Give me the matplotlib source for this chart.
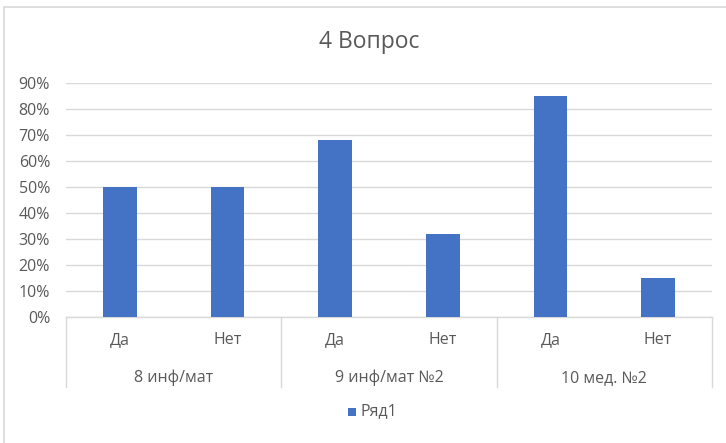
import matplotlib
matplotlib.use("Agg")
import matplotlib.pyplot as plt
import matplotlib.transforms as mtransforms
from matplotlib.patches import Rectangle

plt.rcParams['font.family'] = ['Open Sans', 'DejaVu Sans']

groups = ["8 инф/мат", "9 инф/мат №2", "10 мед. №2"]
answers = ["Да", "Нет"]
values = [0.50, 0.50, 0.68, 0.32, 0.85, 0.15]
yticks = [0, 0.1, 0.2, 0.3, 0.4, 0.5, 0.6, 0.7, 0.8, 0.9]
title = "4 Вопрос"
series_name = "Ряд1"

W, H = 726, 443
fig = plt.figure(figsize=(W / 100, H / 100), dpi=100)
fig.patch.set_facecolor('white')

# outer chart frame
fig.add_artist(Rectangle((3.5 / W, -0.1), 1.2, (H - 6.5) / H + 0.1, transform=fig.transFigure,
                         fill=False, edgecolor='#d9d9d9', linewidth=1.2))

left, right, top, bottom = 66, 712, 83, 317
ax = fig.add_axes([left / W, 1 - bottom / H, (right - left) / W, (bottom - top) / H])

color = '#4472C4'
text_color = '#595959'
grid_color = '#d9d9d9'
fs = 11.5

n = len(values)
x = list(range(n))
ax.bar(x, values, width=0.315, color=color, zorder=3)
ax.set_xlim(-0.5, n - 0.5)
ax.set_ylim(0, 0.9)
ax.set_yticks(yticks)
ax.set_yticklabels([f"{int(round(v * 100))}%" for v in yticks], fontsize=fs, color=text_color)
ax.tick_params(axis='y', length=0, pad=11.5)
ax.set_xticks([])
for s in ['top', 'right', 'left']:
    ax.spines[s].set_visible(False)
ax.spines['bottom'].set_color(grid_color)
ax.spines['bottom'].set_linewidth(1)
ax.yaxis.grid(True, color=grid_color, linewidth=1, zorder=0)
ax.set_axisbelow(True)

axes_h = bottom - top
trans = mtransforms.blended_transform_factory(ax.transData, ax.transAxes)

# answer labels
for i in range(n):
    ax.text(x[i], -(340 - bottom) / axes_h, answers[i % 2], transform=trans, ha='center', va='center',
            fontsize=fs, color=text_color)
# group labels
for g, name in enumerate(groups):
    ax.text(2 * g + 0.5, -(378 - bottom) / axes_h, name, transform=trans, ha='center', va='center',
            fontsize=fs, color=text_color)
# dividers
for g in range(len(groups) + 1):
    xd = 2 * g - 0.5
    ax.plot([xd, xd], [0, -(387 - bottom) / axes_h], transform=trans, color=grid_color,
            linewidth=1, clip_on=False)

# title
fig.text(369 / W, 1 - 42 / H, title, ha='center', va='center', fontsize=16.5, color=text_color)

# legend
fig.add_artist(Rectangle((348 / W, 1 - 416 / H), 8 / W, 8 / H, transform=fig.transFigure,
                         facecolor=color, edgecolor='none'))
fig.text(361 / W, 1 - 411 / H, series_name, ha='left', va='center', fontsize=fs, color=text_color)

fig.savefig("out.png", dpi=100)
